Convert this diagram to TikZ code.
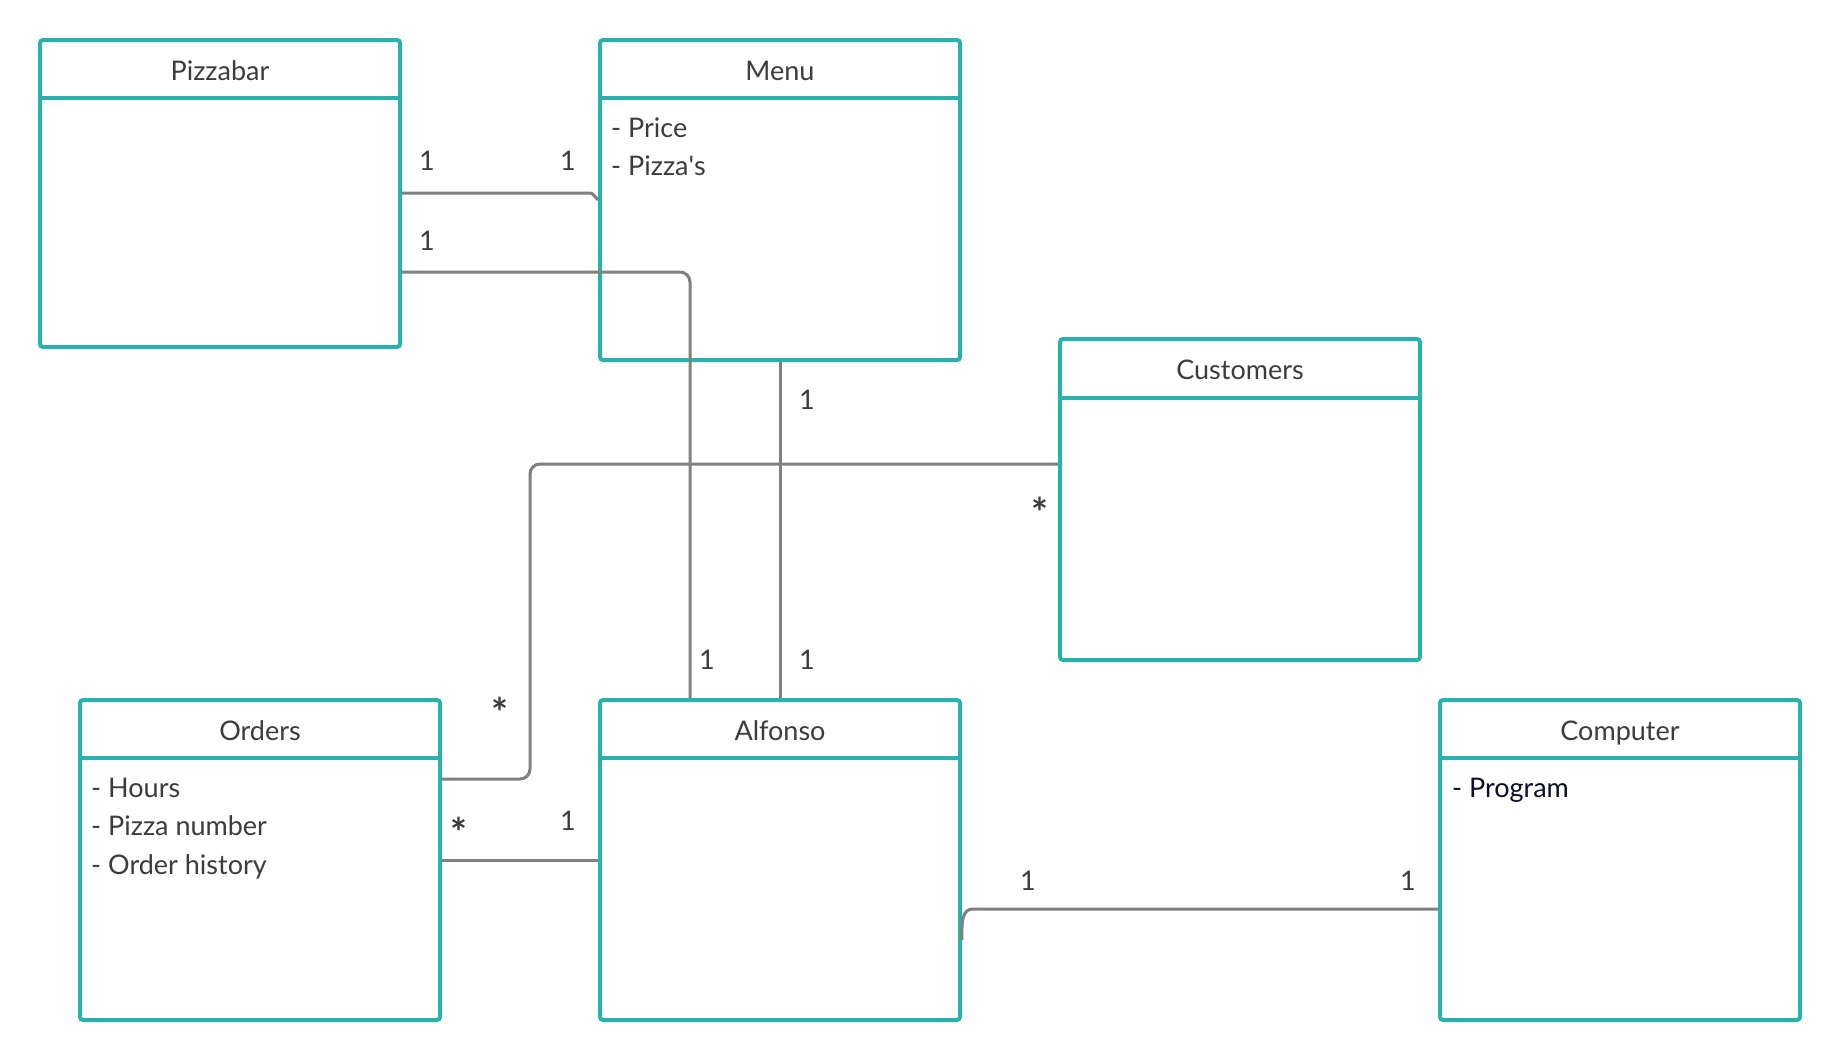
\documentclass[tikz,border=0pt]{standalone}
\usepackage{fontspec}
\setmainfont{Lato}
\usepackage{tikz}
\usetikzlibrary{positioning,calc}

\definecolor{classteal}{RGB}{42,177,172}
\definecolor{assocgray}{RGB}{128,128,128}
\definecolor{labelgray}{RGB}{60,60,60}
\definecolor{itemnavy}{RGB}{12,12,40}

\tikzset{
  classbox/.style={draw=classteal, line width=4pt, rounded corners=3pt,
    minimum width=360pt, inner sep=0pt},
  classline/.style={draw=classteal, line width=4pt},
  classtitle/.style={anchor=base, text=labelgray, inner sep=0pt},
  classitems/.style={anchor=base west, align=left, text=labelgray, inner sep=0pt},
  assoc/.style={draw=assocgray, line width=3pt, rounded corners=10pt},
  mult/.style={anchor=base, text=labelgray, inner sep=0pt},
  many/.style={mult, font=\fontsize{40}{44}\selectfont\bfseries},
}

\begin{document}
\begin{tikzpicture}[x=1pt, y=-1pt, font=\fontsize{27}{38.5}\selectfont]
  \useasboundingbox (0,0) rectangle (1840,1060);
  \fill[white] (0,0) rectangle (1840,1060);

  % Classes
  \node[classbox, minimum height=307pt] (pizzabar) at (220,193.5) {};
  \node[classbox, minimum height=320pt] (menu) at (780,200) {};
  \node[classbox, minimum height=321pt] (customers) at (1240,499.5) {};
  \node[classbox, minimum height=320pt] (orders) at (260,860) {};
  \node[classbox, minimum height=320pt] (alfonso) at (780,860) {};
  \node[classbox, minimum height=320pt] (computer) at (1620,860) {};

  % Header dividers
  \draw[classline] (pizzabar.west |- 0,98) -- (pizzabar.east |- 0,98);
  \draw[classline] (menu.west |- 0,98) -- (menu.east |- 0,98);
  \draw[classline] (customers.west |- 0,398) -- (customers.east |- 0,398);
  \draw[classline] (orders.west |- 0,758) -- (orders.east |- 0,758);
  \draw[classline] (alfonso.west |- 0,758) -- (alfonso.east |- 0,758);
  \draw[classline] (computer.west |- 0,758) -- (computer.east |- 0,758);

  % Titles
  \node[classtitle] (pizzabar-title) at (pizzabar.north |- 0,80) {Pizzabar};
  \node[classtitle] (menu-title) at (menu.north |- 0,80) {Menu};
  \node[classtitle] (customers-title) at (customers.north |- 0,379) {Customers};
  \node[classtitle] (orders-title) at (orders.north |- 0,740) {Orders};
  \node[classtitle] (alfonso-title) at (alfonso.north |- 0,740) {Alfonso};
  \node[classtitle] (computer-title) at (computer.north |- 0,740) {Computer};

  % Attributes (placed at the baseline of the last line)
  \node[classitems] (menu-items) at (611,175.5) {- Price\\- Pizza\textquotesingle s};
  \node[classitems] (orders-items) at (91,874) {- Hours\\- Pizza number\\- Order history};
  \node[classitems, text=itemnavy] (computer-items) at (1452,797) {- Program};

  % Associations
  \draw[assoc] (pizzabar.east |- 0,193) -- (580,193) .. controls (592,193) .. (menu.west |- 0,200);
  \draw[assoc] (pizzabar.east |- 0,272) -| (alfonso.north -| 690,0);
  \draw[assoc] (menu.south) -- (alfonso.north);
  \draw[assoc] (customers.west |- 0,464) -| (530,779) -- (orders.east |- 0,779);
  \draw[assoc] (orders.east |- 0,860) -- (alfonso.west |- 0,860);
  \draw[assoc] (alfonso.east |- 0,940) .. controls (961,911) and (966,909) .. (985,909) -- (computer.west |- 0,909);

  % Multiplicities
  \node[mult] (m-pb-menu-a) at (427,170) {1};
  \node[mult] (m-pb-menu-b) at (568,170) {1};
  \node[mult] (m-pb-alf) at (427,250) {1};
  \node[mult] (m-menu-alf-a) at (807,409) {1};
  \node[mult] (m-menu-alf-b) at (807,669) {1};
  \node[mult] (m-alf-pb) at (707,669) {1};
  \node[many] (m-cust) at (1040,527) {*};
  \node[many] (m-ord-cust) at (500,727) {*};
  \node[many] (m-ord-alf) at (459,847) {*};
  \node[mult] (m-alf-ord) at (568,830) {1};
  \node[mult] (m-alf-comp) at (1028,890) {1};
  \node[mult] (m-comp-alf) at (1408,890) {1};
\end{tikzpicture}
\end{document}
